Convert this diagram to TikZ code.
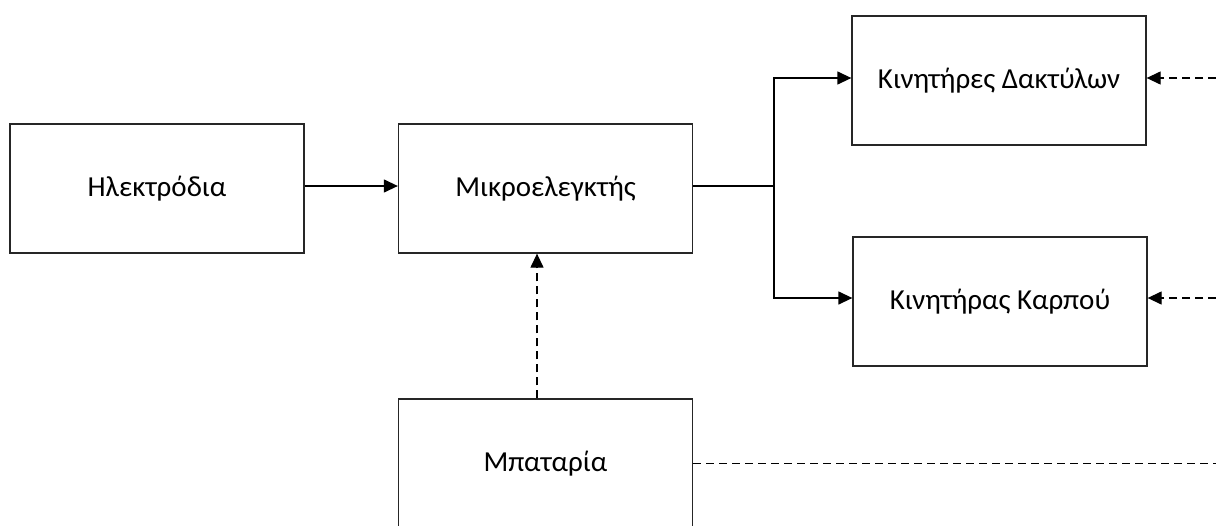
\documentclass[tikz,border=0pt]{standalone}
\usepackage{fontspec}
\setmainfont{Carlito}
\usetikzlibrary{arrows.meta}
\tikzset{
  blk/.style={draw=black!85, line width=1.3pt, rectangle, minimum width=294pt, minimum height=129pt, inner sep=0pt, font=\fontsize{29}{33}\selectfont},
  conn/.style={line width=1.3pt, draw=black, -{Triangle[length=14pt,width=13pt]}},
  plain/.style={line width=1.3pt, draw=black},
  dconn/.style={line width=1.3pt, draw=black, dash pattern=on 8pt off 5pt, -{Triangle[length=14pt,width=13pt]}},
  dplain/.style={line width=1.3pt, draw=black, dash pattern=on 8pt off 5pt}
}
\begin{document}
\begin{tikzpicture}[x=1pt,y=-1pt]
\useasboundingbox (0,0) rectangle (1216,525);
\clip (0,0) rectangle (1216,525);
\node[blk] (el) at (157,188.5) {Ηλεκτρόδια};
\node[blk] (mc) at (545.5,188.5) {Μικροελεγκτής};
\node[blk] (fm) at (999,80.5) {Κινητήρες Δακτύλων};
\node[blk] (wm) at (1000,301.5) {Κινητήρας Καρπού};
\node[blk] (bt) at (545.5,463.5) {Μπαταρία};
\coordinate (j) at (774,186);
\coordinate (r1) at (1216,78);
\coordinate (r2) at (1216,298);
\coordinate (r3) at (1216,463.5);
\draw[conn] (el.east |- 0,186) -- (mc.west |- 0,186);
\draw[plain] (mc.east |- j) -- (j);
\draw[conn] (j) |- (fm.west |- r1);
\draw[conn] (j) |- (wm.west |- r2);
\draw[dconn] (bt.north -| 537,0) -- (mc.south -| 537,0);
\draw[dconn] (r1) -- (fm.east |- r1);
\draw[dconn] (r2) -- (wm.east |- r2);
\draw[dplain] (bt.east) -- (r3);
\end{tikzpicture}
\end{document}
